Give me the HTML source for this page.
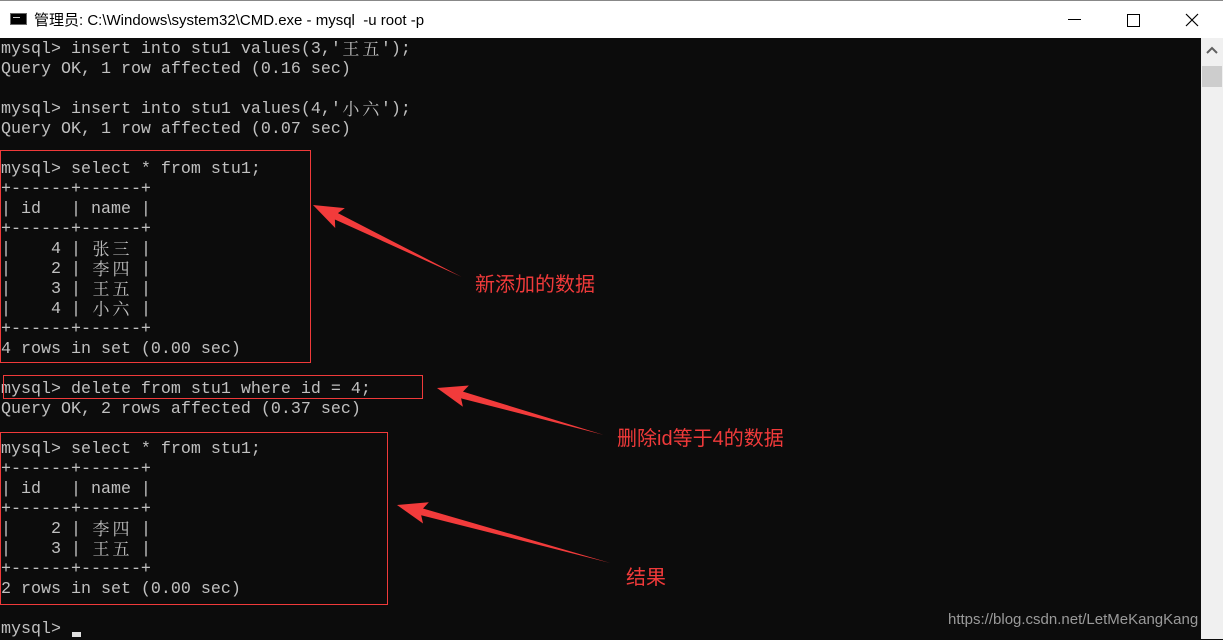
<!DOCTYPE html>
<html><head><meta charset="utf-8"><style>
body{margin:0;width:1223px;height:639px;overflow:hidden;background:#0c0c0c;position:relative;font-family:"Liberation Mono","Noto Sans CJK SC",monospace}
#title{position:absolute;left:0;top:0;width:1223px;height:38px;background:#fff;border-top:1px solid #888;box-sizing:border-box}
#title .t{position:absolute;left:34px;top:8px;font:15px "Liberation Sans","Noto Sans CJK SC",sans-serif;color:#000}
#term{position:absolute;left:1px;top:40px;color:#c0c0c0;font-size:16.67px;line-height:20px;white-space:pre}
.l{height:20px;line-height:20px;overflow:visible}
.c{display:inline-block;width:20px;height:20px;text-align:center;font-size:17px;line-height:20px;font-family:"Noto Serif CJK SC","Noto Sans CJK SC",serif;vertical-align:top;position:relative;top:-2px}
#sb{position:absolute;left:1201px;top:38px;width:22px;height:601px;background:#f0f0f0}
.box{position:absolute;border:1px solid #f03a3a;box-sizing:border-box}
.lab{position:absolute;color:#f03a3a;font:20px "Liberation Sans","Noto Sans CJK SC",sans-serif;white-space:nowrap}
</style></head><body>
<div id="title">
<div style="position:absolute;left:10px;top:12px;width:17px;height:12px;background:#000;border:1px solid #666;box-sizing:border-box"><div style="position:absolute;left:2px;top:3px;width:7px;height:3px;border-top:1px solid #ccc"></div></div>
<div class="t">管理员: C:\Windows\system32\CMD.exe - mysql&nbsp; -u root -p</div>
<div style="position:absolute;left:1068px;top:18px;width:13px;height:1px;background:#000"></div>
<div style="position:absolute;left:1127px;top:13px;width:11px;height:11px;border:1px solid #000"></div>
<svg style="position:absolute;left:1185px;top:12px" width="14" height="14"><path d="M1 1L13 13M13 1L1 13" stroke="#000" stroke-width="1.2"/></svg>
</div>
<div id="term"><div class="l">mysql&gt; insert into stu1 values(3,'<span class="c">王</span><span class="c">五</span>');</div><div class="l">Query OK, 1 row affected (0.16 sec)</div><div class="l"></div><div class="l">mysql&gt; insert into stu1 values(4,'<span class="c">小</span><span class="c">六</span>');</div><div class="l">Query OK, 1 row affected (0.07 sec)</div><div class="l"></div><div class="l">mysql&gt; select * from stu1;</div><div class="l">+------+------+</div><div class="l">| id   | name |</div><div class="l">+------+------+</div><div class="l">|    4 | <span class="c">张</span><span class="c">三</span> |</div><div class="l">|    2 | <span class="c">李</span><span class="c">四</span> |</div><div class="l">|    3 | <span class="c">王</span><span class="c">五</span> |</div><div class="l">|    4 | <span class="c">小</span><span class="c">六</span> |</div><div class="l">+------+------+</div><div class="l">4 rows in set (0.00 sec)</div><div class="l"></div><div class="l">mysql&gt; delete from stu1 where id = 4;</div><div class="l">Query OK, 2 rows affected (0.37 sec)</div><div class="l"></div><div class="l">mysql&gt; select * from stu1;</div><div class="l">+------+------+</div><div class="l">| id   | name |</div><div class="l">+------+------+</div><div class="l">|    2 | <span class="c">李</span><span class="c">四</span> |</div><div class="l">|    3 | <span class="c">王</span><span class="c">五</span> |</div><div class="l">+------+------+</div><div class="l">2 rows in set (0.00 sec)</div><div class="l"></div><div class="l">mysql&gt; </div></div>
<div style="position:absolute;left:948px;top:611px;color:#9a9a9a;font:15px 'Liberation Sans',sans-serif;white-space:nowrap">https://blog.csdn.net/LetMeKangKang</div>
<div id="sb"><svg style="position:absolute;left:5px;top:8px" width="12" height="8"><path d="M1 7L6 2L11 7" stroke="#606060" stroke-width="2" fill="none"/></svg><div style="position:absolute;left:1px;top:28px;width:20px;height:21px;background:#cdcdcd"></div></div>
<div style="position:absolute;left:72px;top:632px;width:9px;height:5px;background:#e0e0e0"></div>
<div class="box" style="left:0;top:150px;width:311px;height:213px"></div>
<div class="box" style="left:3px;top:375px;width:420px;height:24px"></div>
<div class="box" style="left:0;top:432px;width:388px;height:173px"></div>
<svg style="position:absolute;left:0;top:0" width="1223" height="639">
<g fill="#f23b3b">
<polygon transform="translate(313,205) rotate(25.8)" points="0,0 30,-11 26,-3.5 165,0 26,3.5 30,11"/>
<polygon transform="translate(437,388) rotate(15.7)" points="0,0 30,-11 26,-3.5 173,0 26,3.5 30,11"/>
<polygon transform="translate(397,505) rotate(15.2)" points="0,0 30,-11 26,-3.5 221,0 26,3.5 30,11"/>
</g></svg>
<div class="lab" style="left:475px;top:268px">新添加的数据</div>
<div class="lab" style="left:617px;top:422px">删除id等于4的数据</div>
<div class="lab" style="left:626px;top:561px">结果</div>
</body></html>
